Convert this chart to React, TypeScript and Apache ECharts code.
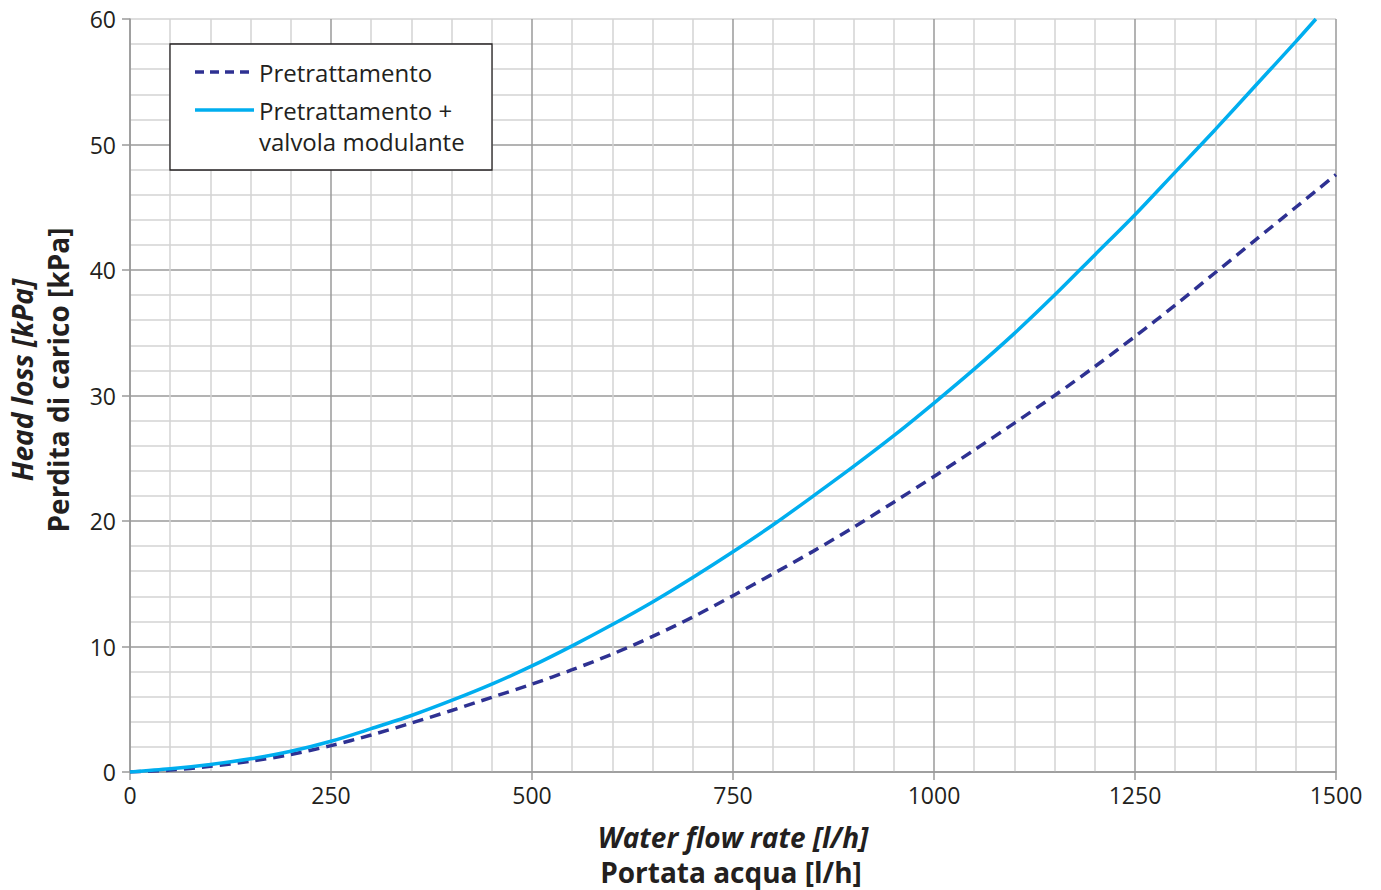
import React, { useEffect, useRef } from "react";
import * as echarts from "echarts";

const flowDashed = [0, 50, 100, 150, 200, 250, 300, 350, 400, 450, 500, 550, 600, 650, 700, 750, 800, 850, 900, 950, 1000, 1050, 1100, 1150, 1200, 1250, 1300, 1350, 1400, 1450, 1500];
const lossPretrattamento = [0, 0.15, 0.45, 0.85, 1.4, 2.1, 2.95, 3.9, 4.9, 5.95, 7.0, 8.15, 9.4, 10.8, 12.35, 14.05, 15.8, 17.6, 19.5, 21.5, 23.55, 25.65, 27.8, 30.0, 32.3, 34.7, 37.2, 39.8, 42.4, 45.0, 47.6];

const flowSolid = [0, 50, 100, 150, 200, 250, 300, 350, 400, 450, 500, 550, 600, 650, 700, 750, 800, 850, 900, 950, 1000, 1050, 1100, 1150, 1200, 1250, 1300, 1350, 1400, 1450, 1475];
const lossValvola = [0, 0.25, 0.6, 1.05, 1.65, 2.45, 3.45, 4.5, 5.7, 7.0, 8.45, 10.05, 11.75, 13.55, 15.5, 17.55, 19.7, 22.0, 24.35, 26.8, 29.4, 32.1, 34.95, 38.0, 41.2, 44.4, 47.8, 51.2, 54.7, 58.2, 60];

const seriesNames = ["Pretrattamento", "Pretrattamento +\nvalvola modulante"];
const legendLines = ["Pretrattamento", "Pretrattamento +", "valvola modulante"];
const xTitle = ["Water flow rate [l/h]", "Portata acqua [l/h]"];
const yTitle = ["Head loss [kPa]", "Perdita di carico [kPa]"];

const FONT = "'Open Sans', 'Noto Sans', sans-serif";
const TEXT = "#231f20";
const MAJOR = "#9a9a9a";
const MINOR = "#d3d3d3";
const DARK_BLUE = "#2e3192";
const CYAN = "#00aeef";

export default function App() {
  const ref = useRef<HTMLDivElement>(null);
  useEffect(() => {
    if (!ref.current) return;
    const chart = echarts.init(ref.current, undefined, { renderer: "svg" });
    const axisCommon = {
      axisLine: { show: true, lineStyle: { color: MAJOR, width: 1.5 } },
      axisTick: { show: true, inside: false, length: 8, lineStyle: { color: MAJOR, width: 1.5 } },
      minorTick: { show: false, splitNumber: 5 },
      minorSplitLine: { show: true, lineStyle: { color: MINOR, width: 1.5 } },
    };
    chart.setOption({
      animation: false,
      backgroundColor: "#ffffff",
      grid: { left: 130, right: 45, top: 19, bottom: 118, containLabel: false },
      xAxis: {
        type: "value",
        min: 0,
        max: 1500,
        interval: 250,
        ...axisCommon,
        splitLine: { show: true, lineStyle: { color: MAJOR, width: 1.5 } },
        axisLabel: {
          color: TEXT,
          fontFamily: FONT,
          fontSize: 23,
          margin: 11,
          formatter: (v: number) => String(v),
        },
      },
      yAxis: {
        type: "value",
        min: 0,
        max: 60,
        interval: 10,
        ...axisCommon,
        splitLine: {
          show: true,
          lineStyle: { color: [MAJOR, MAJOR, MAJOR, MAJOR, MAJOR, MAJOR, MINOR], width: 1.5 },
        },
        axisLabel: {
          color: TEXT,
          fontFamily: FONT,
          fontSize: 23,
          margin: 14,
          formatter: (v: number) => String(v),
        },
      },
      series: [
        {
          name: seriesNames[0],
          type: "line",
          smooth: 0.3,
          symbol: "none",
          z: 3,
          lineStyle: { color: DARK_BLUE, width: 3.5, type: [11, 7] },
          data: flowDashed.map((x, i) => [x, lossPretrattamento[i]]),
        },
        {
          name: seriesNames[1],
          type: "line",
          smooth: 0.3,
          symbol: "none",
          z: 4,
          lineStyle: { color: CYAN, width: 3.5 },
          data: flowSolid.map((x, i) => [x, lossValvola[i]]),
        },
      ],
      graphic: [
        {
          type: "rect",
          z: 10,
          shape: { x: 170, y: 44, width: 322, height: 126 },
          style: { fill: "#ffffff", stroke: TEXT, lineWidth: 1.3 },
        },
        {
          type: "line",
          z: 11,
          shape: { x1: 195, y1: 72, x2: 254, y2: 72 },
          style: { stroke: DARK_BLUE, lineWidth: 3.5, lineDash: [9, 6] },
        },
        {
          type: "line",
          z: 11,
          shape: { x1: 195, y1: 110, x2: 254, y2: 110 },
          style: { stroke: CYAN, lineWidth: 3.5 },
        },
        {
          type: "text",
          z: 11,
          x: 259,
          y: 72,
          style: { text: legendLines[0], fill: TEXT, font: `24px ${FONT}`, textVerticalAlign: "middle" },
        },
        {
          type: "text",
          z: 11,
          x: 259,
          y: 110,
          style: { text: legendLines[1], fill: TEXT, font: `24px ${FONT}`, textVerticalAlign: "middle" },
        },
        {
          type: "text",
          z: 11,
          x: 259,
          y: 141,
          style: { text: legendLines[2], fill: TEXT, font: `24px ${FONT}`, textVerticalAlign: "middle" },
        },
        {
          type: "text",
          x: 733,
          y: 837,
          style: {
            text: xTitle[0],
            fill: TEXT,
            font: `italic bold 28px ${FONT}`,
            lineHeight: 30,
            textAlign: "center",
            textVerticalAlign: "middle",
          },
        },
        {
          type: "text",
          x: 731,
          y: 872,
          style: {
            text: xTitle[1],
            fill: TEXT,
            font: `bold 28px ${FONT}`,
            lineHeight: 30,
            textAlign: "center",
            textVerticalAlign: "middle",
          },
        },
        {
          type: "text",
          x: 22,
          y: 380,
          rotation: Math.PI / 2,
          style: {
            text: yTitle[0],
            fill: TEXT,
            font: `italic bold 28px ${FONT}`,
            lineHeight: 30,
            textAlign: "center",
            textVerticalAlign: "middle",
          },
        },
        {
          type: "text",
          x: 58,
          y: 380,
          rotation: Math.PI / 2,
          style: {
            text: yTitle[1],
            fill: TEXT,
            font: `bold 28px ${FONT}`,
            lineHeight: 30,
            textAlign: "center",
            textVerticalAlign: "middle",
          },
        },
      ],
    });
    return () => chart.dispose();
  }, []);
  return (
    <div
      ref={ref}
      style={{ position: "fixed", left: 0, top: 0, width: 1381, height: 890, background: "#fff" }}
    />
  );
}
